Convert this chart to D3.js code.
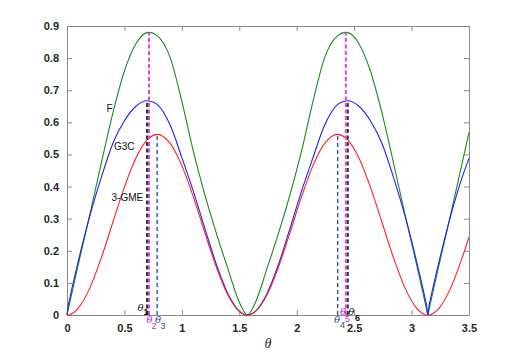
<!DOCTYPE html>
<html>
<head>
<meta charset="utf-8">
<script src="https://cdn.jsdelivr.net/npm/d3@7"></script>
<style>
  html, body { margin: 0; padding: 0; background: #fff; }
  svg { display: block; }
  .tick text { font-family: "Liberation Sans", Arial, sans-serif; font-size: 11px; font-weight: bold; fill: #262626; }
</style>
</head>
<body>
<svg id="chart" width="518" height="354"></svg>
<script>
// ---- data ----
const theta = [0, 0.01, 0.02, 0.1, 0.2, 0.3, 0.4, 0.5, 0.6, 0.697, 0.714, 0.785, 0.9, 1.0, 1.1, 1.2, 1.3, 1.4, 1.5, 1.5708,
  1.6416, 1.7416, 1.8416, 1.9416, 2.0416, 2.1416, 2.2416, 2.3566, 2.4276, 2.4446, 2.5416, 2.6416, 2.7416, 2.8416, 2.9416, 3.0416, 3.1216, 3.1316, 3.1416,
  3.1516, 3.1616, 3.2416, 3.3416, 3.4416, 3.5];
const seriesF = [0, 0.016, 0.032, 0.16, 0.315, 0.475, 0.63, 0.76, 0.845, 0.8795, 0.88, 0.87, 0.80, 0.665, 0.51, 0.375, 0.255, 0.145, 0.04, 0,
  0.04, 0.145, 0.255, 0.375, 0.51, 0.665, 0.80, 0.87, 0.88, 0.8795, 0.845, 0.76, 0.63, 0.475, 0.315, 0.16, 0.032, 0.016, 0,
  0.016, 0.032, 0.16, 0.315, 0.475, 0.568];
const seriesG3C = [0, 0.028, 0.045, 0.17, 0.31, 0.43, 0.535, 0.605, 0.65, 0.667, 0.6665, 0.656, 0.59, 0.49, 0.385, 0.27, 0.158, 0.067, 0.012, 0,
  0.012, 0.067, 0.158, 0.27, 0.385, 0.49, 0.59, 0.656, 0.6665, 0.667, 0.65, 0.605, 0.535, 0.43, 0.31, 0.17, 0.045, 0.028, 0,
  0.028, 0.045, 0.17, 0.31, 0.43, 0.488];
const seriesGME = [0, 0.0002, 0.0009, 0.0222, 0.0853, 0.1793, 0.2895, 0.3983, 0.4886, 0.5451, 0.5511, 0.5625, 0.5335, 0.4651, 0.3677, 0.2567, 0.1495, 0.0631, 0.0112, 0,
  0.0112, 0.0631, 0.1495, 0.2567, 0.3677, 0.4651, 0.5335, 0.5625, 0.5511, 0.5451, 0.4886, 0.3983, 0.2895, 0.1793, 0.0853, 0.0222, 0.0009, 0.0002, 0,
  0.0002, 0.0009, 0.0222, 0.0853, 0.1793, 0.243];
const seriesNames = ["F", "G3C", "3-GME"];
const markerTheta = [0.785, 0.697, 0.714, 2.3566, 2.4446, 2.4276];
const markerTop   = [0.5625, 0.667, 0.88, 0.5625, 0.667, 0.88];
const markerNames = ["3", "1", "2", "4", "6", "5"];
const xTicks = [0, 0.5, 1, 1.5, 2, 2.5, 3, 3.5];
const yTicks = [0, 0.1, 0.2, 0.3, 0.4, 0.5, 0.6, 0.7, 0.8, 0.9];

// ---- layout ----
const L = 67, R = 469, T = 26, B = 315;
const svg = d3.select("#chart");
const x = d3.scaleLinear().domain([0, 3.5]).range([L, R]);
const y = d3.scaleLinear().domain([0, 0.9]).range([B, T]);
const axisColor = "#8a8a8a";

// axes
const fmt = d => d3.format("")(d);
const gB = svg.append("g").attr("transform", `translate(0,${B})`)
  .call(d3.axisBottom(x).tickValues(xTicks).tickFormat(fmt).tickSize(-5).tickSizeOuter(0).tickPadding(9));
const gT = svg.append("g").attr("transform", `translate(0,${T})`)
  .call(d3.axisTop(x).tickValues(xTicks).tickFormat("").tickSize(-5).tickSizeOuter(0));
const gL = svg.append("g").attr("transform", `translate(${L},0)`)
  .call(d3.axisLeft(y).tickValues(yTicks).tickFormat(fmt).tickSize(-5).tickSizeOuter(0).tickPadding(8));
const gR = svg.append("g").attr("transform", `translate(${R},0)`)
  .call(d3.axisRight(y).tickValues(yTicks).tickFormat("").tickSize(-5).tickSizeOuter(0));
[gB, gT, gL, gR].forEach(g => {
  g.selectAll("path.domain").attr("stroke", axisColor).attr("stroke-width", 1);
  g.selectAll(".tick line").attr("stroke", axisColor);
});
// remove edge ticks on box corners are fine

// curves
const colors = ["#1a8a1a", "#1f1fff", "#ff2020"];
const allSeries = [seriesF, seriesG3C, seriesGME];
const line = d3.line().x(d => x(d[0])).y(d => y(d[1])).curve(d3.curveMonotoneX);
allSeries.forEach((s, i) => {
  svg.append("path")
    .datum(theta.map((t, k) => [t, s[k]]))
    .attr("fill", "none")
    .attr("stroke", colors[i])
    .attr("stroke-width", 1.1)
    .attr("d", line);
});

// dashed markers
const mStyle = {
  "3": {c: "#2b4aa0", w: 1.3, dash: "4,3"},
  "4": {c: "#2b4aa0", w: 1.3, dash: "4,3"},
  "1": {c: "#333333", w: 2, dash: "4,2.5"},
  "6": {c: "#333333", w: 2, dash: "4,2.5"},
  "2": {c: "#dd44dd", w: 2, dash: "4,2.5"},
  "5": {c: "#dd44dd", w: 2, dash: "4,2.5"}
};
markerTheta.forEach((t, i) => {
  const st = mStyle[markerNames[i]];
  svg.append("line")
    .attr("x1", x(t)).attr("x2", x(t))
    .attr("y1", y(0)).attr("y2", y(markerTop[i]))
    .attr("stroke", st.c).attr("stroke-width", st.w)
    .attr("stroke-dasharray", st.dash);
});

// marker labels (theta_i)
const labelOff = {
  "1": {tx: -9.5, ty: 311, sx: -3.5, sy: 315},
  "2": {tx: -2.5, ty: 323, sx: 2.5, sy: 329},
  "3": {tx: -2.2, ty: 323, sx: 3.3, sy: 329},
  "4": {tx: -3.7, ty: 322.5, sx: 2.3, sy: 328},
  "5": {tx: -5.8, ty: 315, sx: -0.8, sy: 321.5},
  "6": {tx: 0.5, ty: 315, sx: 7.2, sy: 320.5}
};
markerTheta.forEach((t, i) => {
  const n = markerNames[i], o = labelOff[n], st = mStyle[n];
  const col = (n === "1" || n === "6") ? "#111" : (n === "2" || n === "5") ? "#cc22cc" : "#2b4aa0";
  svg.append("text").attr("x", x(t) + o.tx).attr("y", o.ty)
    .attr("font-family", "'DejaVu Serif', 'Liberation Serif', serif").attr("font-style", "italic")
    .attr("font-size", 10).attr("fill", col).text("θ");
  svg.append("text").attr("x", x(t) + o.sx).attr("y", o.sy)
    .attr("font-family", "'Liberation Sans', Arial, sans-serif").attr("font-weight", n === "1" || n === "6" ? "bold" : "normal")
    .attr("font-size", 9).attr("fill", col).text(n);
});

// series labels
const seriesLabelPos = [[106.5, 112], [114, 150], [111.5, 201]];
seriesNames.forEach((nm, i) => {
  svg.append("text").attr("x", seriesLabelPos[i][0]).attr("y", seriesLabelPos[i][1])
    .attr("font-family", "'Liberation Sans', Arial, sans-serif").attr("font-size", 10)
    .attr("fill", "#111").text(nm);
});

// x-axis title
svg.append("text").attr("x", (L + R) / 2).attr("y", 348).attr("text-anchor", "middle")
  .attr("font-family", "'Liberation Serif', 'Times New Roman', serif").attr("font-style", "italic")
  .attr("font-size", 14).attr("fill", "#222").text("θ");
</script>
</body>
</html>
